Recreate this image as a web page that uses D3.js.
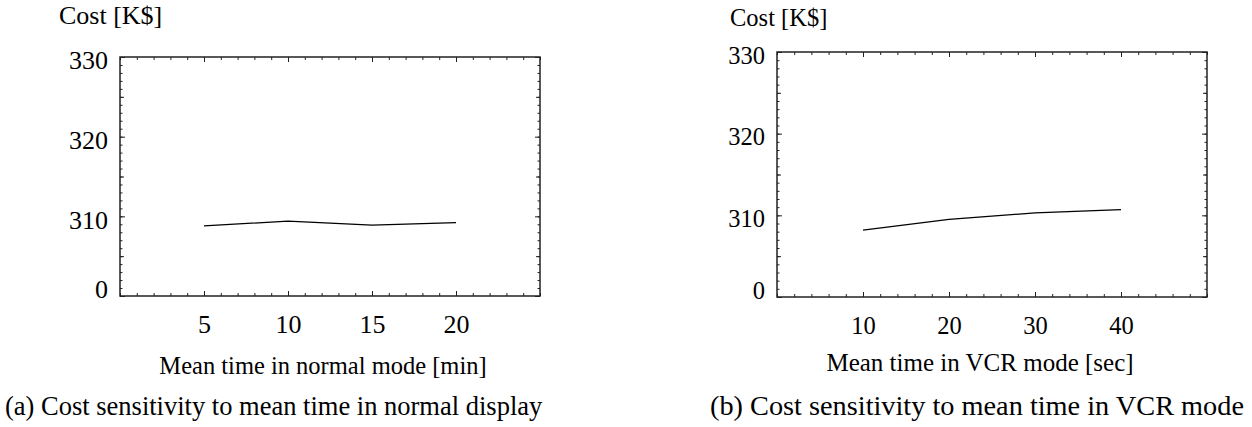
<!DOCTYPE html>
<html>
<head>
<meta charset="utf-8">
<script src="https://cdn.jsdelivr.net/npm/d3@7"></script>
<style>
  html, body { margin: 0; padding: 0; background: #fff; }
  svg text { font-family: "Liberation Serif", "Times New Roman", serif; fill: #000; }
</style>
</head>
<body>
<svg id="chart" width="1252" height="427"></svg>
<script>
// ---- data ----
const xNormal = [5, 10, 15, 20];               // mean time in normal mode [min]
const costNormal = [308.8, 309.4, 308.9, 309.2]; // cost [K$]
const xVCR = [10, 20, 30, 40];                 // mean time in VCR mode [sec]
const costVCR = [308.2, 309.5, 310.3, 310.7];  // cost [K$]

const yTickValues = [300, 310, 320, 330];
const yTickLabels = ["0", "310", "320", "330"];
const xTicksNormal = [5, 10, 15, 20];
const xTicksVCR = [10, 20, 30, 40];

const yTitle = "Cost [K$]";
const xTitleNormal = "Mean time in normal mode [min]";
const xTitleVCR = "Mean time in VCR mode [sec]";
const captionNormal = "(a) Cost sensitivity to mean time in normal display";
const captionVCR = "(b) Cost sensitivity to mean time in VCR mode";

// ---- layout ----
const panels = [
  { x: xNormal, y: costNormal, xTicks: xTicksNormal, xDomain: [0, 25], xMinorStep: 1,
    left: 120, right: 540, top: 57, bottom: 296, font: 26,
    yTitle: { x: 59, y: 24 }, xTitle: { text: xTitleNormal, x: 323, y: 374, size: 24.5 },
    caption: { text: captionNormal, x: 5, y: 415, size: 26.5 } },
  { x: xVCR, y: costVCR, xTicks: xTicksVCR, xDomain: [0, 50], xMinorStep: 2,
    left: 777, right: 1207, top: 52, bottom: 297, font: 24.5,
    yTitle: { x: 730, y: 26 }, xTitle: { text: xTitleVCR, x: 980, y: 371, size: 25 },
    caption: { text: captionVCR, x: 710, y: 415, size: 28.3 } }
];

const svg = d3.select("#chart");

panels.forEach(p => {
  const xs = d3.scaleLinear().domain(p.xDomain).range([p.left, p.right]);
  const ys = d3.scaleLinear().domain([300, 330]).range([p.bottom, p.top]);
  const g = svg.append("g");

  const xMinor = d3.range(p.xDomain[0], p.xDomain[1] + 0.001, p.xMinorStep);
  const yMinor = d3.range(300, 330.001, 1);
  const yMid = d3.range(305, 330, 10);

  const addAxis = (axis, transform, cls) =>
    g.append("g").attr("transform", transform).attr("class", cls).call(axis)
      .call(s => s.select(".domain").remove())
      .call(s => s.selectAll("line").attr("stroke", "#222").attr("stroke-width", 1));

  // minor / mid ticks on all four sides, pointing inward
  addAxis(d3.axisBottom(xs).tickValues(xMinor).tickSize(-3).tickFormat(""), `translate(0,${p.bottom})`, "minor");
  addAxis(d3.axisTop(xs).tickValues(xMinor).tickSize(-3).tickFormat(""), `translate(0,${p.top})`, "minor");
  addAxis(d3.axisLeft(ys).tickValues(yMinor).tickSize(-2.5).tickFormat(""), `translate(${p.left},0)`, "minor");
  addAxis(d3.axisRight(ys).tickValues(yMinor).tickSize(-2.5).tickFormat(""), `translate(${p.right},0)`, "minor");
  addAxis(d3.axisLeft(ys).tickValues(yMid).tickSize(-4).tickFormat(""), `translate(${p.left},0)`, "mid");
  addAxis(d3.axisRight(ys).tickValues(yMid).tickSize(-4).tickFormat(""), `translate(${p.right},0)`, "mid");
  addAxis(d3.axisTop(xs).tickValues(p.xTicks).tickSize(-5).tickFormat(""), `translate(0,${p.top})`, "major");
  addAxis(d3.axisRight(ys).tickValues(yTickValues).tickSize(-5).tickFormat(""), `translate(${p.right},0)`, "major");

  // major ticks with labels
  const xAx = addAxis(d3.axisBottom(xs).tickValues(p.xTicks).tickSize(-5).tickPadding(0), `translate(0,${p.bottom})`, "xmajor");
  xAx.selectAll("text").attr("y", 37).attr("dy", null)
    .style("font-size", p.font + "px").style("font-family", '"Liberation Serif", "Times New Roman", serif');

  const yAx = addAxis(d3.axisLeft(ys).tickValues(yTickValues).tickSize(-5).tickPadding(12)
      .tickFormat((d, i) => yTickLabels[i]), `translate(${p.left},0)`, "ymajor");
  yAx.selectAll("text")
    .attr("dy", d => d === 300 ? "0.06em" : "0.45em")
    .style("font-size", p.font + "px").style("font-family", '"Liberation Serif", "Times New Roman", serif');

  // frame
  g.append("rect")
    .attr("x", p.left).attr("y", p.top)
    .attr("width", p.right - p.left).attr("height", p.bottom - p.top)
    .attr("fill", "none").attr("stroke", "#222").attr("stroke-width", 1.5);

  // data line
  const line = d3.line().x(d => xs(d[0])).y(d => ys(d[1]));
  g.append("path")
    .datum(p.x.map((v, i) => [v, p.y[i]]))
    .attr("d", line)
    .attr("fill", "none").attr("stroke", "#000").attr("stroke-width", 1.3);

  // titles
  g.append("text").attr("x", p.yTitle.x).attr("y", p.yTitle.y)
    .style("font-size", p.font + "px").text(yTitle);
  g.append("text").attr("x", p.xTitle.x).attr("y", p.xTitle.y).attr("text-anchor", "middle")
    .style("font-size", p.xTitle.size + "px").text(p.xTitle.text);
  g.append("text").attr("x", p.caption.x).attr("y", p.caption.y)
    .style("font-size", p.caption.size + "px").text(p.caption.text);
});
</script>
</body>
</html>
